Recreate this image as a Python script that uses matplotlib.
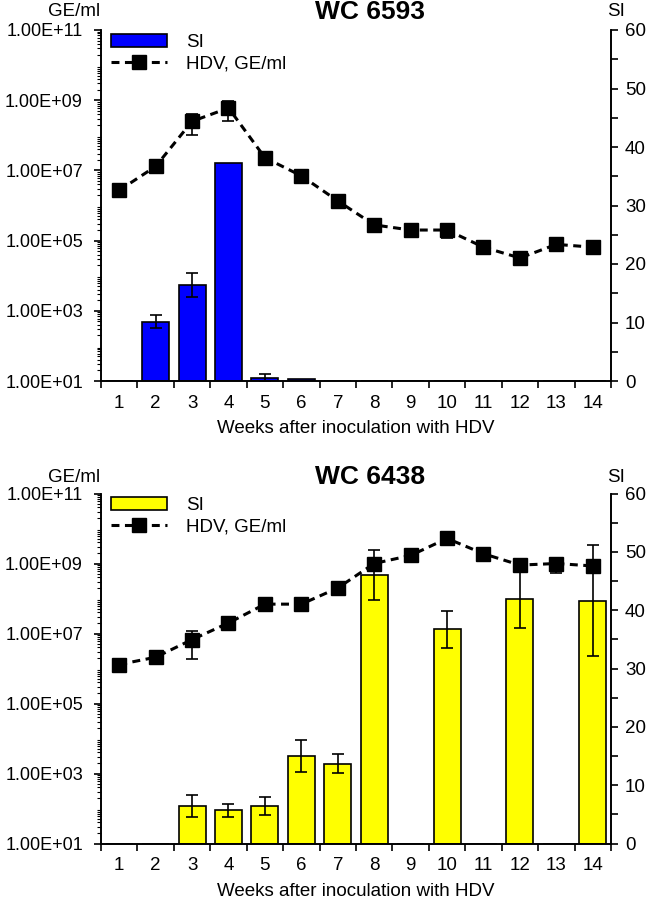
import numpy as np
import matplotlib
matplotlib.use("Agg")
import matplotlib.pyplot as plt
from matplotlib.ticker import LogLocator, FixedLocator, NullFormatter, MultipleLocator, FixedFormatter
from matplotlib.patches import Patch
from matplotlib.lines import Line2D

plt.rcParams['font.family'] = ['Liberation Sans', 'DejaVu Sans']

weeks = [1, 2, 3, 4, 5, 6, 7, 8, 9, 10, 11, 12, 13, 14]

# Panel 1: WC 6593
title1 = "WC 6593"
hdv1 = [2.7e6, 1.3e7, 2.5e8, 6.0e8, 2.3e7, 7.0e6, 1.35e6, 2.8e5, 2.0e5, 2.0e5, 6.5e4, 3.2e4, 7.8e4, 6.5e4]
hdv1_err = [0, 0, 1.5e8, 3.5e8, 0, 0, 0, 0, 0, 8.0e4, 0, 0, 0, 0]
si1 = [0, 10.1, 16.4, 37.3, 0.5, 0.3, 0, 0, 0, 0, 0, 0, 0, 0]
si1_err = [0, 1.1, 2.0, 0, 0.7, 0, 0, 0, 0, 0, 0, 0, 0, 0]

# Panel 2: WC 6438
title2 = "WC 6438"
hdv2 = [1.3e6, 2.1e6, 6.7e6, 2.0e7, 6.9e7, 6.9e7, 2.0e8, 1.0e9, 1.7e9, 5.2e9, 1.9e9, 9.0e8, 1.0e9, 8.5e8]
hdv2_err = [0, 0, 4.8e6, 0, 0, 0, 0, 0, 0, 0, 0, 0, 4.6e8, 0]
si2 = [0, 0, 6.45, 5.7, 6.45, 15.0, 13.7, 46.1, 0, 36.7, 0, 42.0, 0, 41.6]
si2_err = [0, 0, 1.9, 1.1, 1.6, 2.8, 1.6, 4.3, 0, 3.2, 0, 5.0, 0, 9.5]

left_ticks = [1e1, 1e3, 1e5, 1e7, 1e9, 1e11]
left_labels = ["1.00E+01", "1.00E+03", "1.00E+05", "1.00E+07", "1.00E+09", "1.00E+11"]
right_ticks = [0, 10, 20, 30, 40, 50, 60]
xlabel = "Weeks after inoculation with HDV"

FS = 13.5
W, H = 650, 900
fig = plt.figure(figsize=(6.5, 9), dpi=100)


def panel(rect, title, hdv, hdv_err, si, si_err, color, title_y):
    ax = fig.add_axes(rect)
    ax2 = ax.twinx()
    x = np.array(weeks)
    si = np.array(si, dtype=float)
    si_err = np.array(si_err, dtype=float)
    ax2.bar(x, si, width=0.74, color=color, edgecolor='black', linewidth=1.2, zorder=2)
    m = si_err > 0
    ax2.errorbar(x[m], si[m], yerr=si_err[m], fmt='none', ecolor='black',
                 elinewidth=1.2, capsize=4, capthick=1.2, zorder=3)
    ax2.set_ylim(0, 60)
    ax2.yaxis.set_major_locator(FixedLocator(right_ticks))
    ax2.yaxis.set_minor_locator(MultipleLocator(5))
    ax2.tick_params(axis='y', which='both', direction='out', length=5, width=1.2,
                    labelsize=FS, pad=5)

    hdv = np.array(hdv, dtype=float)
    hdv_err = np.array(hdv_err, dtype=float)
    ax.plot(x, hdv, color='black', lw=2.2, ls=(0, (2.6, 1.8)), marker='s', ms=9.5, zorder=5)
    mh = hdv_err > 0
    ax.errorbar(x[mh], hdv[mh], yerr=hdv_err[mh], fmt='none', ecolor='black',
                elinewidth=1.2, capsize=4, capthick=1.2, zorder=4)
    ax.set_yscale('log')
    ax.set_ylim(1e1, 1e11)
    ax.yaxis.set_major_locator(FixedLocator(left_ticks))
    ax.yaxis.set_major_formatter(FixedFormatter(left_labels))
    ax.yaxis.set_minor_locator(LogLocator(base=10, subs=np.arange(2, 10), numticks=100))
    ax.yaxis.set_minor_formatter(NullFormatter())
    ax.tick_params(axis='y', which='major', direction='out', length=5, width=1.2,
                   labelsize=13, pad=8)
    ax.tick_params(axis='y', which='minor', direction='out', length=3, width=0.8)

    ax.set_xlim(0.5, 14.5)
    ax.set_xticks(weeks)
    ax.set_xticklabels([str(w) for w in weeks])
    ax.xaxis.set_minor_locator(FixedLocator(np.arange(0.5, 15, 1.0)))
    ax.tick_params(axis='x', which='major', length=0, labelsize=FS, pad=10)
    ax.tick_params(axis='x', which='minor', direction='out', length=5, width=1.2)
    ax.set_xlabel(xlabel, fontsize=FS, labelpad=6)

    for a in (ax, ax2):
        a.spines['top'].set_visible(False)
        for s in ('left', 'right', 'bottom'):
            a.spines[s].set_linewidth(1.2)

    ax.set_zorder(ax2.get_zorder() + 1)
    ax.patch.set_visible(False)

    handles = [Patch(facecolor=color, edgecolor='black', linewidth=1.2),
               Line2D([], [], color='black', lw=2.2, ls=(0, (2.6, 1.8)), marker='s', ms=9.5)]
    ax.legend(handles, ["SI", "HDV, GE/ml"], loc='upper left', bbox_to_anchor=(0.02, 0.99),
              frameon=False, fontsize=FS, handlelength=3.0, handletextpad=1.0,
              borderpad=0, borderaxespad=0, labelspacing=0.25, handleheight=0.7)

    fig.text(100 / W, 1 - title_y / H, "GE/ml", ha='right', va='center', fontsize=FS)
    fig.text(616 / W, 1 - title_y / H, "SI", ha='center', va='center', fontsize=FS)
    fig.text(370 / W, 1 - title_y / H, title, ha='center', va='center', fontsize=19,
             fontweight='bold')
    return ax, ax2


panel([101 / W, 1 - 381 / H, 510 / W, 351 / H], title1, hdv1, hdv1_err, si1, si1_err,
      '#0000FF', 12)
panel([101 / W, 1 - 843.5 / H, 510 / W, 350 / H], title2, hdv2, hdv2_err, si2, si2_err,
      '#FFFF00', 477)

fig.savefig("out.png", dpi=100)
